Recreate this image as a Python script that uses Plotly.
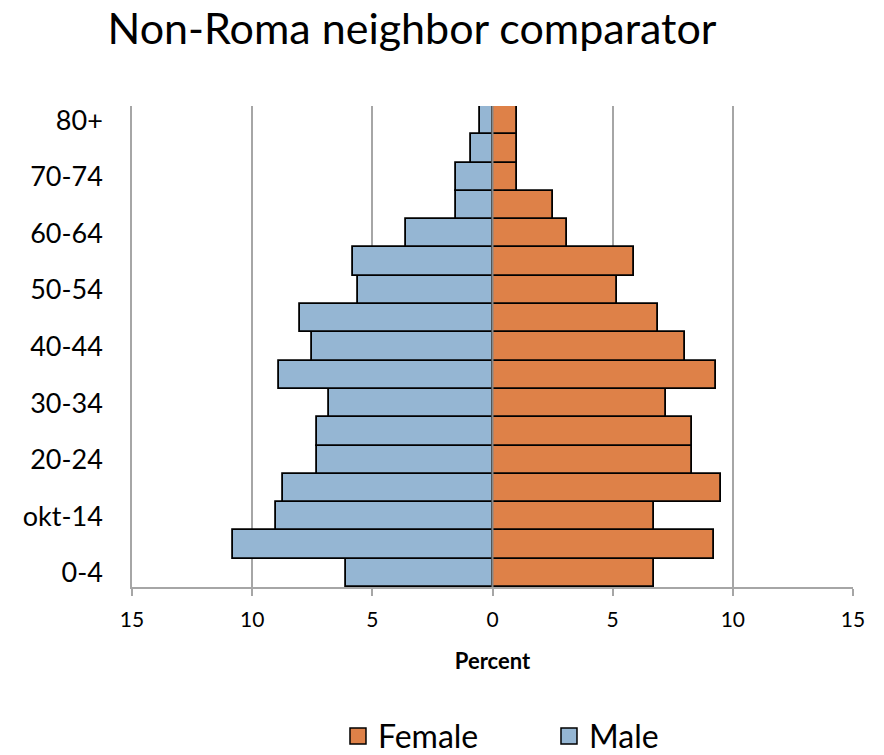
import plotly.graph_objects as go

categories = ["0-4", "5-9", "okt-14", "15-19", "20-24", "25-29", "30-34", "35-39",
              "40-44", "45-49", "50-54", "55-59", "60-64", "65-69", "70-74", "75-79", "80+"]
male = [6.1, 10.8, 9.0, 8.7, 7.3, 7.3, 6.8, 8.9, 7.5, 8.0, 5.6, 5.8, 3.6, 1.5, 1.5, 0.9, 0.5]
female = [6.7, 9.2, 6.7, 9.5, 8.3, 8.3, 7.2, 9.3, 8.0, 6.9, 5.2, 5.9, 3.1, 2.5, 1.0, 1.0, 1.0]
x_ticks = [-15, -10, -5, 0, 5, 10, 15]
x_tick_text = ["15", "10", "5", "0", "5", "10", "15"]
y_tick_labels = categories[::2]

FONT = "Lato"
male_color = "#95b6d3"
female_color = "#de8148"
outline = dict(color="black", width=1.8)

W, H = 876, 747  # page body has an 8px margin; keep the figure inside the 884x755 window

fig = go.Figure()
fig.add_trace(go.Bar(
    y=categories, x=female, orientation="h", name="Female", showlegend=False,
    marker=dict(color=female_color, line=outline),
))
fig.add_trace(go.Bar(
    y=categories, x=[-v for v in male], orientation="h", name="Male", showlegend=False,
    marker=dict(color=male_color, line=outline),
))
# legend entries (square swatches)
for name, col in [("Female", female_color), ("Male", male_color)]:
    fig.add_trace(go.Scatter(
        x=[None], y=[None], mode="markers", name=name,
        marker=dict(symbol="square", size=18, color=col, line=dict(color="black", width=1.5)),
    ))

fig.update_layout(
    width=W, height=H,
    barmode="overlay", bargap=0,
    paper_bgcolor="white", plot_bgcolor="white",
    margin=dict(l=124, r=31, t=98, b=168, autoexpand=False),
    font=dict(family=FONT, color="black"),
    title=dict(text="Non-Roma neighbor comparator", x=404 / W, xanchor="center",
               y=1 - 21 / H, yanchor="middle", font=dict(size=43, family=FONT)),
    xaxis=dict(
        range=[-15, 15], tickmode="array", tickvals=x_ticks, ticktext=x_tick_text,
        showgrid=True, gridcolor="#a6a6a6", gridwidth=1.5,
        zeroline=False, showline=True, linecolor="#a6a6a6", linewidth=1.5,
        ticks="outside", ticklen=7, tickcolor="#a6a6a6", tickwidth=1.5,
        ticklabelstandoff=6, tickfont=dict(size=21), fixedrange=True,
        title=dict(text="<b>Percent</b>", font=dict(size=22), standoff=24),
    ),
    yaxis=dict(
        type="category", categoryorder="array", categoryarray=categories,
        tickmode="array", tickvals=y_tick_labels, ticktext=y_tick_labels,
        showgrid=False, zeroline=False, showline=True, linecolor="#a6a6a6", linewidth=1.5,
        ticks="", ticklabelstandoff=22, tickfont=dict(size=27),
    ),
    legend=dict(orientation="h", x=0.2857, xanchor="left", y=-0.31, yanchor="middle",
                font=dict(size=32), itemwidth=30, traceorder="normal",
                entrywidth=166, entrywidthmode="pixels"),
    shapes=[dict(type="line", xref="x", yref="paper", x0=0, x1=0, y0=0, y1=1,
                 line=dict(color="#888888", width=2), layer="above")],
)

fig.write_html("out.html")
